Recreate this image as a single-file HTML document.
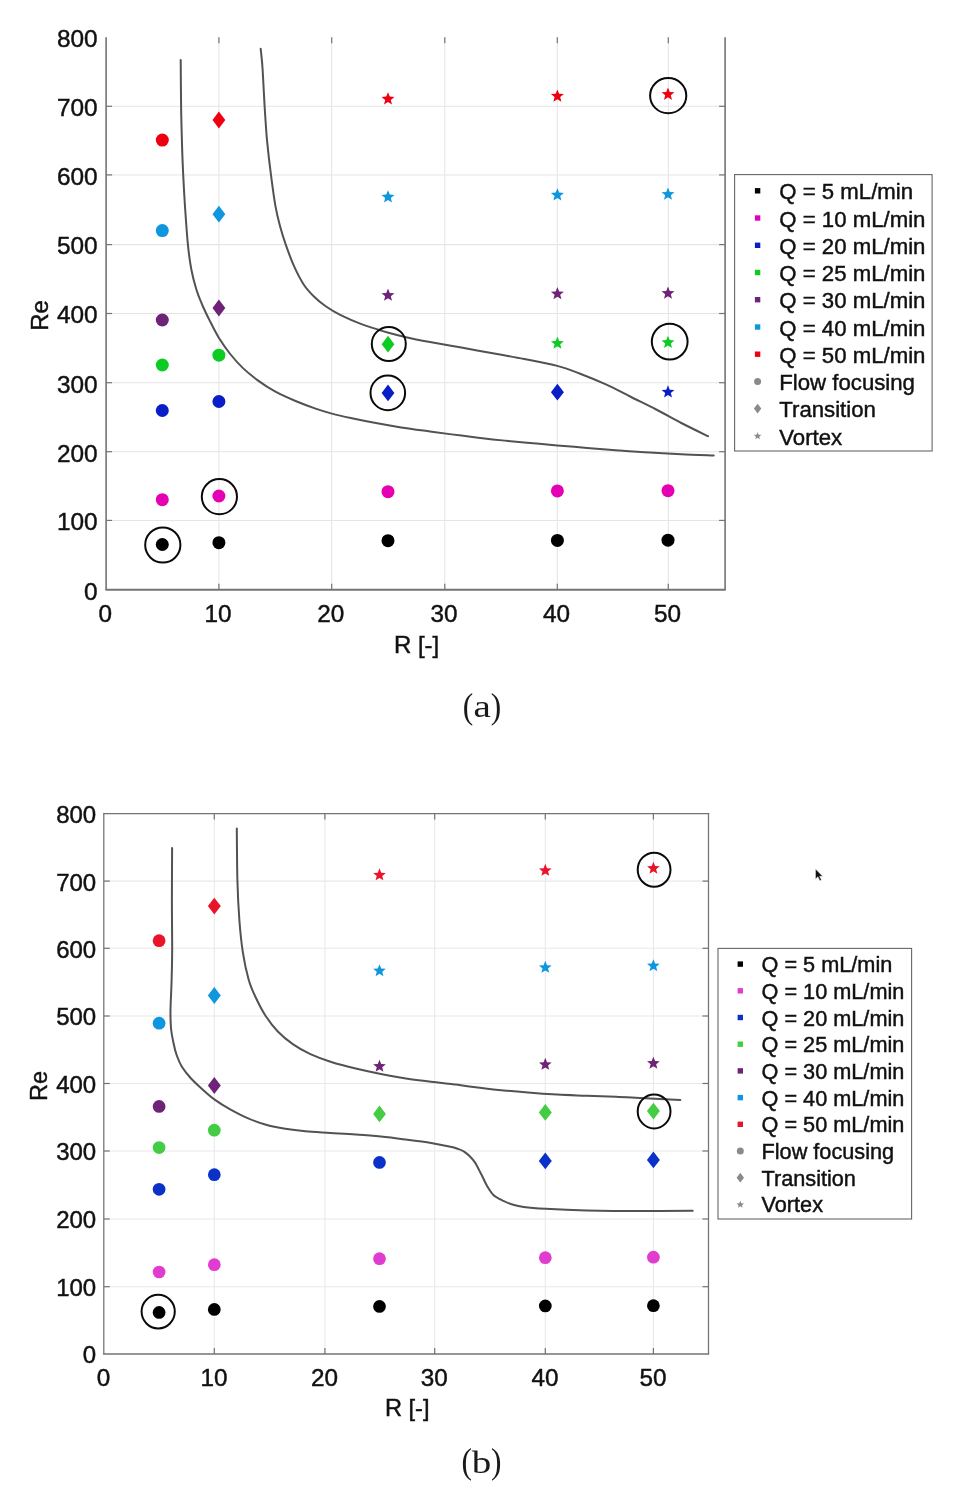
<!DOCTYPE html>
<html lang="en"><head><meta charset="utf-8"><title>Flow regime maps</title>
<style>html,body{margin:0;padding:0;background:#fff}body{width:955px;height:1492px;overflow:hidden}svg{display:block}text{font-family:"Liberation Sans", sans-serif;fill:#111;stroke:#111;stroke-width:0.45px}.cap text{font-family:"Liberation Serif", "DejaVu Serif", serif;stroke:none;fill:#1a1a1a}</style></head><body>
<svg width="955" height="1492" viewBox="0 0 955 1492">
<rect width="955" height="1492" fill="#fff"/>
<g id="plot-a">
<line x1="218.9" y1="37.3" x2="218.9" y2="589.7" stroke="#E5E5E5" stroke-width="1.05"/>
<line x1="331.7" y1="37.3" x2="331.7" y2="589.7" stroke="#E5E5E5" stroke-width="1.05"/>
<line x1="444.8" y1="37.3" x2="444.8" y2="589.7" stroke="#E5E5E5" stroke-width="1.05"/>
<line x1="557.3" y1="37.3" x2="557.3" y2="589.7" stroke="#E5E5E5" stroke-width="1.05"/>
<line x1="668.3" y1="37.3" x2="668.3" y2="589.7" stroke="#E5E5E5" stroke-width="1.05"/>
<line x1="106.1" y1="520.4" x2="725.1" y2="520.4" stroke="#E5E5E5" stroke-width="1.05"/>
<line x1="106.1" y1="451.7" x2="725.1" y2="451.7" stroke="#E5E5E5" stroke-width="1.05"/>
<line x1="106.1" y1="382.7" x2="725.1" y2="382.7" stroke="#E5E5E5" stroke-width="1.05"/>
<line x1="106.1" y1="313.5" x2="725.1" y2="313.5" stroke="#E5E5E5" stroke-width="1.05"/>
<line x1="106.1" y1="244.6" x2="725.1" y2="244.6" stroke="#E5E5E5" stroke-width="1.05"/>
<line x1="106.1" y1="174.9" x2="725.1" y2="174.9" stroke="#E5E5E5" stroke-width="1.05"/>
<line x1="106.1" y1="106.3" x2="725.1" y2="106.3" stroke="#E5E5E5" stroke-width="1.05"/>
<line x1="106.1" y1="37.3" x2="106.1" y2="589.7" stroke="#747474" stroke-width="1.60"/>
<line x1="725.1" y1="37.3" x2="725.1" y2="589.7" stroke="#747474" stroke-width="1.60"/>
<line x1="105.4" y1="589.7" x2="725.8" y2="589.7" stroke="#747474" stroke-width="1.90"/>
<line x1="218.9" y1="589.7" x2="218.9" y2="583.7" stroke="#747474" stroke-width="1.2"/>
<line x1="218.9" y1="37.3" x2="218.9" y2="43.3" stroke="#747474" stroke-width="1.2"/>
<line x1="331.7" y1="589.7" x2="331.7" y2="583.7" stroke="#747474" stroke-width="1.2"/>
<line x1="331.7" y1="37.3" x2="331.7" y2="43.3" stroke="#747474" stroke-width="1.2"/>
<line x1="444.8" y1="589.7" x2="444.8" y2="583.7" stroke="#747474" stroke-width="1.2"/>
<line x1="444.8" y1="37.3" x2="444.8" y2="43.3" stroke="#747474" stroke-width="1.2"/>
<line x1="557.3" y1="589.7" x2="557.3" y2="583.7" stroke="#747474" stroke-width="1.2"/>
<line x1="557.3" y1="37.3" x2="557.3" y2="43.3" stroke="#747474" stroke-width="1.2"/>
<line x1="668.3" y1="589.7" x2="668.3" y2="583.7" stroke="#747474" stroke-width="1.2"/>
<line x1="668.3" y1="37.3" x2="668.3" y2="43.3" stroke="#747474" stroke-width="1.2"/>
<line x1="106.1" y1="520.4" x2="112.1" y2="520.4" stroke="#747474" stroke-width="1.2"/>
<line x1="725.1" y1="520.4" x2="719.1" y2="520.4" stroke="#747474" stroke-width="1.2"/>
<line x1="106.1" y1="451.7" x2="112.1" y2="451.7" stroke="#747474" stroke-width="1.2"/>
<line x1="725.1" y1="451.7" x2="719.1" y2="451.7" stroke="#747474" stroke-width="1.2"/>
<line x1="106.1" y1="382.7" x2="112.1" y2="382.7" stroke="#747474" stroke-width="1.2"/>
<line x1="725.1" y1="382.7" x2="719.1" y2="382.7" stroke="#747474" stroke-width="1.2"/>
<line x1="106.1" y1="313.5" x2="112.1" y2="313.5" stroke="#747474" stroke-width="1.2"/>
<line x1="725.1" y1="313.5" x2="719.1" y2="313.5" stroke="#747474" stroke-width="1.2"/>
<line x1="106.1" y1="244.6" x2="112.1" y2="244.6" stroke="#747474" stroke-width="1.2"/>
<line x1="725.1" y1="244.6" x2="719.1" y2="244.6" stroke="#747474" stroke-width="1.2"/>
<line x1="106.1" y1="174.9" x2="112.1" y2="174.9" stroke="#747474" stroke-width="1.2"/>
<line x1="725.1" y1="174.9" x2="719.1" y2="174.9" stroke="#747474" stroke-width="1.2"/>
<line x1="106.1" y1="106.3" x2="112.1" y2="106.3" stroke="#747474" stroke-width="1.2"/>
<line x1="725.1" y1="106.3" x2="719.1" y2="106.3" stroke="#747474" stroke-width="1.2"/>
<text x="105.2" y="621.5" font-size="24.3" text-anchor="middle">0</text>
<text x="218.0" y="621.5" font-size="24.3" text-anchor="middle">10</text>
<text x="330.8" y="621.5" font-size="24.3" text-anchor="middle">20</text>
<text x="443.9" y="621.5" font-size="24.3" text-anchor="middle">30</text>
<text x="556.4" y="621.5" font-size="24.3" text-anchor="middle">40</text>
<text x="667.4" y="621.5" font-size="24.3" text-anchor="middle">50</text>
<text x="97.6" y="599.5" font-size="24.4" text-anchor="end">0</text>
<text x="97.6" y="530.2" font-size="24.4" text-anchor="end">100</text>
<text x="97.6" y="461.5" font-size="24.4" text-anchor="end">200</text>
<text x="97.6" y="392.5" font-size="24.4" text-anchor="end">300</text>
<text x="97.6" y="323.3" font-size="24.4" text-anchor="end">400</text>
<text x="97.6" y="254.4" font-size="24.4" text-anchor="end">500</text>
<text x="97.6" y="184.7" font-size="24.4" text-anchor="end">600</text>
<text x="97.6" y="116.1" font-size="24.4" text-anchor="end">700</text>
<text x="97.6" y="47.1" font-size="24.4" text-anchor="end">800</text>
<text x="416.6" y="653.3" font-size="24.0" text-anchor="middle">R [-]</text>
<text transform="translate(47.9,315.4) rotate(-90)" font-size="24.0" text-anchor="middle">Re</text>
<path d="M180.7,60.1 C180.8,67.8 180.9,91.9 181.1,106.4 C181.3,120.9 181.8,136.0 182.1,147.3 C182.4,158.7 182.7,164.1 183.2,174.5 C183.7,184.9 184.4,197.8 185.2,209.5 C186.0,221.2 186.9,234.5 187.9,244.6 C188.9,254.7 190.0,262.4 191.4,269.8 C192.8,277.2 194.5,283.4 196.3,289.3 C198.1,295.2 200.0,299.6 202.3,305.0 C204.6,310.4 207.3,315.9 210.1,321.4 C212.8,326.8 215.5,332.3 218.8,337.7 C222.2,343.1 226.2,349.0 230.2,354.0 C234.2,359.0 238.1,363.5 242.7,367.9 C247.3,372.3 252.4,376.4 257.8,380.4 C263.2,384.4 269.1,388.3 275.4,391.7 C281.7,395.1 288.8,398.2 295.5,401.0 C302.2,403.8 309.5,406.5 315.6,408.6 C321.7,410.7 326.0,412.0 331.9,413.6 C337.8,415.2 343.5,416.5 350.8,418.1 C358.1,419.7 367.5,421.6 375.9,423.1 C384.3,424.7 392.1,426.0 401.1,427.4 C410.1,428.8 419.9,430.1 430.0,431.5 C440.1,432.9 450.9,434.3 461.4,435.6 C471.9,436.9 482.3,438.2 492.8,439.4 C503.3,440.5 513.5,441.5 524.2,442.5 C534.9,443.5 546.7,444.5 557.2,445.4 C567.7,446.3 576.9,447.1 587.1,447.9 C597.3,448.7 608.0,449.6 618.5,450.4 C629.0,451.2 639.4,452.0 649.9,452.6 C660.4,453.2 670.7,453.7 681.3,454.2 C691.9,454.7 708.3,455.2 713.7,455.4" fill="none" stroke="#525252" stroke-width="2" stroke-linecap="round" stroke-linejoin="round"/>
<path d="M260.7,48.8 C261.0,52.2 262.0,59.7 262.6,69.2 C263.2,78.8 263.9,94.1 264.6,106.1 C265.4,118.1 266.0,129.7 267.1,141.2 C268.2,152.7 269.6,164.5 271.0,175.2 C272.4,185.9 273.8,196.8 275.3,205.4 C276.8,214.0 278.4,220.2 280.2,226.8 C282.0,233.5 283.7,238.8 286.0,245.3 C288.3,251.8 290.9,259.2 293.8,265.7 C296.7,272.2 300.1,279.0 303.5,284.2 C306.9,289.4 310.5,293.1 314.2,296.8 C317.9,300.5 321.3,303.2 325.7,306.3 C330.1,309.4 334.8,312.2 340.7,315.1 C346.6,318.0 354.9,321.6 360.8,323.9 C366.7,326.2 371.3,327.4 375.9,328.9 C380.5,330.4 383.5,331.3 388.5,332.7 C393.5,334.1 399.2,335.6 406.1,337.2 C413.0,338.8 420.8,340.3 430.0,342.0 C439.2,343.7 450.9,345.7 461.4,347.6 C471.9,349.5 482.3,351.4 492.8,353.3 C503.3,355.2 513.5,356.9 524.2,359.0 C534.9,361.1 547.8,363.4 557.2,365.9 C566.6,368.4 572.7,370.9 580.8,374.0 C588.9,377.1 597.5,380.6 605.9,384.4 C614.3,388.2 622.7,392.8 631.1,397.0 C639.5,401.2 647.8,405.2 656.2,409.5 C664.6,413.8 672.7,418.6 681.3,423.0 C689.9,427.4 703.5,434.0 708.0,436.2" fill="none" stroke="#525252" stroke-width="2" stroke-linecap="round" stroke-linejoin="round"/>
<circle cx="162.3" cy="140.1" r="6.50" fill="#EE0010"/>
<circle cx="162.3" cy="230.6" r="6.50" fill="#0E96DE"/>
<circle cx="162.3" cy="320.0" r="6.50" fill="#6E2278"/>
<circle cx="162.3" cy="365.0" r="6.50" fill="#0CCB22"/>
<circle cx="162.3" cy="410.5" r="6.50" fill="#0A1EC8"/>
<circle cx="162.3" cy="499.7" r="6.50" fill="#E600B4"/>
<circle cx="162.3" cy="544.5" r="6.50" fill="#000000"/>
<polygon points="218.9,111.6 225.3,120.0 218.9,128.4 212.5,120.0" fill="#EE0010"/>
<polygon points="218.9,205.8 225.3,214.2 218.9,222.6 212.5,214.2" fill="#0E96DE"/>
<polygon points="218.9,299.6 225.3,308.0 218.9,316.4 212.5,308.0" fill="#6E2278"/>
<circle cx="218.9" cy="355.2" r="6.50" fill="#0CCB22"/>
<circle cx="218.9" cy="401.5" r="6.50" fill="#0A1EC8"/>
<circle cx="218.9" cy="496.0" r="6.50" fill="#E600B4"/>
<circle cx="218.9" cy="542.7" r="6.50" fill="#000000"/>
<polygon points="388.00,92.20 389.74,96.60 394.46,96.89 390.81,99.91 391.99,104.49 388.00,101.95 384.01,104.49 385.19,99.91 381.54,96.89 386.26,96.60" fill="#EE0010"/>
<polygon points="388.00,190.20 389.74,194.60 394.46,194.89 390.81,197.91 391.99,202.49 388.00,199.95 384.01,202.49 385.19,197.91 381.54,194.89 386.26,194.60" fill="#0E96DE"/>
<polygon points="388.00,288.50 389.74,292.90 394.46,293.19 390.81,296.21 391.99,300.79 388.00,298.25 384.01,300.79 385.19,296.21 381.54,293.19 386.26,292.90" fill="#6E2278"/>
<polygon points="388.0,335.8 394.4,344.2 388.0,352.6 381.6,344.2" fill="#0CCB22"/>
<polygon points="388.0,384.5 394.4,392.9 388.0,401.3 381.6,392.9" fill="#0A1EC8"/>
<circle cx="388.0" cy="491.7" r="6.50" fill="#E600B4"/>
<circle cx="388.0" cy="540.7" r="6.50" fill="#000000"/>
<polygon points="557.40,89.40 559.14,93.80 563.86,94.09 560.21,97.11 561.39,101.69 557.40,99.15 553.41,101.69 554.59,97.11 550.94,94.09 555.66,93.80" fill="#EE0010"/>
<polygon points="557.40,188.20 559.14,192.60 563.86,192.89 560.21,195.91 561.39,200.49 557.40,197.95 553.41,200.49 554.59,195.91 550.94,192.89 555.66,192.60" fill="#0E96DE"/>
<polygon points="557.40,287.00 559.14,291.40 563.86,291.69 560.21,294.71 561.39,299.29 557.40,296.75 553.41,299.29 554.59,294.71 550.94,291.69 555.66,291.40" fill="#6E2278"/>
<polygon points="557.40,336.50 559.14,340.90 563.86,341.19 560.21,344.21 561.39,348.79 557.40,346.25 553.41,348.79 554.59,344.21 550.94,341.19 555.66,340.90" fill="#0CCB22"/>
<polygon points="557.4,383.8 563.9,392.2 557.4,400.6 550.9,392.2" fill="#0A1EC8"/>
<circle cx="557.4" cy="490.9" r="6.50" fill="#E600B4"/>
<circle cx="557.4" cy="540.4" r="6.50" fill="#000000"/>
<polygon points="668.00,87.60 669.74,92.00 674.46,92.29 670.81,95.31 671.99,99.89 668.00,97.35 664.01,99.89 665.19,95.31 661.54,92.29 666.26,92.00" fill="#EE0010"/>
<polygon points="668.00,187.50 669.74,191.90 674.46,192.19 670.81,195.21 671.99,199.79 668.00,197.25 664.01,199.79 665.19,195.21 661.54,192.19 666.26,191.90" fill="#0E96DE"/>
<polygon points="668.00,286.50 669.74,290.90 674.46,291.19 670.81,294.21 671.99,298.79 668.00,296.25 664.01,298.79 665.19,294.21 661.54,291.19 666.26,290.90" fill="#6E2278"/>
<polygon points="668.00,335.70 669.74,340.10 674.46,340.39 670.81,343.41 671.99,347.99 668.00,345.45 664.01,347.99 665.19,343.41 661.54,340.39 666.26,340.10" fill="#0CCB22"/>
<polygon points="668.00,385.30 669.74,389.70 674.46,389.99 670.81,393.01 671.99,397.59 668.00,395.05 664.01,397.59 665.19,393.01 661.54,389.99 666.26,389.70" fill="#0A1EC8"/>
<circle cx="668.0" cy="490.7" r="6.50" fill="#E600B4"/>
<circle cx="668.0" cy="540.2" r="6.50" fill="#000000"/>
<ellipse cx="219.4" cy="496.7" rx="17.6" ry="17.6" fill="none" stroke="#0a0a0a" stroke-width="2"/>
<ellipse cx="162.8" cy="545.0" rx="17.6" ry="17.6" fill="none" stroke="#0a0a0a" stroke-width="2"/>
<ellipse cx="388.8" cy="343.9" rx="17.0" ry="17.0" fill="none" stroke="#0a0a0a" stroke-width="2"/>
<ellipse cx="387.8" cy="392.9" rx="17.3" ry="17.3" fill="none" stroke="#0a0a0a" stroke-width="2"/>
<ellipse cx="668.2" cy="95.7" rx="18.1" ry="17.6" fill="none" stroke="#0a0a0a" stroke-width="2"/>
<ellipse cx="669.7" cy="341.6" rx="17.9" ry="17.9" fill="none" stroke="#0a0a0a" stroke-width="2"/>
<rect x="734.6" y="174.6" width="197.5" height="276.4" fill="#fff" stroke="#666" stroke-width="1.1"/>
<rect x="754.9" y="188.1" width="5.4" height="5.4" fill="#000000"/>
<text x="779.3" y="199.4" font-size="22.2">Q = 5 mL/min</text>
<rect x="754.9" y="215.3" width="5.4" height="5.4" fill="#E600B4"/>
<text x="779.3" y="226.6" font-size="22.2">Q = 10 mL/min</text>
<rect x="754.9" y="242.6" width="5.4" height="5.4" fill="#0A1EC8"/>
<text x="779.3" y="253.9" font-size="22.2">Q = 20 mL/min</text>
<rect x="754.9" y="269.8" width="5.4" height="5.4" fill="#0CCB22"/>
<text x="779.3" y="281.1" font-size="22.2">Q = 25 mL/min</text>
<rect x="754.9" y="297.0" width="5.4" height="5.4" fill="#6E2278"/>
<text x="779.3" y="308.3" font-size="22.2">Q = 30 mL/min</text>
<rect x="754.9" y="324.3" width="5.4" height="5.4" fill="#0E96DE"/>
<text x="779.3" y="335.6" font-size="22.2">Q = 40 mL/min</text>
<rect x="754.9" y="351.5" width="5.4" height="5.4" fill="#EE0010"/>
<text x="779.3" y="362.8" font-size="22.2">Q = 50 mL/min</text>
<circle cx="757.6" cy="381.4" r="3.50" fill="#8a8a8a"/>
<text x="779.3" y="390.0" font-size="22.2">Flow focusing</text>
<polygon points="757.6,403.8 761.3,408.6 757.6,413.5 753.9,408.6" fill="#8a8a8a"/>
<text x="779.3" y="417.2" font-size="22.2">Transition</text>
<polygon points="757.60,432.10 758.62,434.69 761.41,434.87 759.25,436.64 759.95,439.34 757.60,437.84 755.25,439.34 755.95,436.64 753.79,434.87 756.58,434.69" fill="#8a8a8a"/>
<text x="779.3" y="444.5" font-size="22.2">Vortex</text>
<g class="cap">
<text transform="translate(467.9,717.7) scale(0.86,1)" font-size="36.6" text-anchor="middle">(</text>
<text transform="translate(482.2,716.9) scale(1.22,1)" font-size="32" text-anchor="middle">a</text>
<text transform="translate(495.9,717.7) scale(0.86,1)" font-size="36.6" text-anchor="middle">)</text>
</g>
</g>
<g id="plot-b">
<line x1="214.3" y1="813.6" x2="214.3" y2="1353.9" stroke="#E8E8E8" stroke-width="1.05"/>
<line x1="324.9" y1="813.6" x2="324.9" y2="1353.9" stroke="#E8E8E8" stroke-width="1.05"/>
<line x1="434.7" y1="813.6" x2="434.7" y2="1353.9" stroke="#E8E8E8" stroke-width="1.05"/>
<line x1="545.3" y1="813.6" x2="545.3" y2="1353.9" stroke="#E8E8E8" stroke-width="1.05"/>
<line x1="653.4" y1="813.6" x2="653.4" y2="1353.9" stroke="#E8E8E8" stroke-width="1.05"/>
<line x1="103.8" y1="1286.7" x2="708.5" y2="1286.7" stroke="#E8E8E8" stroke-width="1.05"/>
<line x1="103.8" y1="1219.0" x2="708.5" y2="1219.0" stroke="#E8E8E8" stroke-width="1.05"/>
<line x1="103.8" y1="1151.0" x2="708.5" y2="1151.0" stroke="#E8E8E8" stroke-width="1.05"/>
<line x1="103.8" y1="1083.5" x2="708.5" y2="1083.5" stroke="#E8E8E8" stroke-width="1.05"/>
<line x1="103.8" y1="1016.0" x2="708.5" y2="1016.0" stroke="#E8E8E8" stroke-width="1.05"/>
<line x1="103.8" y1="948.3" x2="708.5" y2="948.3" stroke="#E8E8E8" stroke-width="1.05"/>
<line x1="103.8" y1="881.1" x2="708.5" y2="881.1" stroke="#E8E8E8" stroke-width="1.05"/>
<line x1="103.8" y1="813.6" x2="103.8" y2="1353.9" stroke="#737373" stroke-width="1.25"/>
<line x1="708.5" y1="813.6" x2="708.5" y2="1353.9" stroke="#737373" stroke-width="1.25"/>
<line x1="103.1" y1="1353.9" x2="709.2" y2="1353.9" stroke="#737373" stroke-width="1.55"/>
<line x1="103.1" y1="813.6" x2="709.2" y2="813.6" stroke="#737373" stroke-width="1.25"/>
<line x1="214.3" y1="1353.9" x2="214.3" y2="1347.9" stroke="#737373" stroke-width="1.2"/>
<line x1="214.3" y1="813.6" x2="214.3" y2="819.6" stroke="#737373" stroke-width="1.2"/>
<line x1="324.9" y1="1353.9" x2="324.9" y2="1347.9" stroke="#737373" stroke-width="1.2"/>
<line x1="324.9" y1="813.6" x2="324.9" y2="819.6" stroke="#737373" stroke-width="1.2"/>
<line x1="434.7" y1="1353.9" x2="434.7" y2="1347.9" stroke="#737373" stroke-width="1.2"/>
<line x1="434.7" y1="813.6" x2="434.7" y2="819.6" stroke="#737373" stroke-width="1.2"/>
<line x1="545.3" y1="1353.9" x2="545.3" y2="1347.9" stroke="#737373" stroke-width="1.2"/>
<line x1="545.3" y1="813.6" x2="545.3" y2="819.6" stroke="#737373" stroke-width="1.2"/>
<line x1="653.4" y1="1353.9" x2="653.4" y2="1347.9" stroke="#737373" stroke-width="1.2"/>
<line x1="653.4" y1="813.6" x2="653.4" y2="819.6" stroke="#737373" stroke-width="1.2"/>
<line x1="103.8" y1="1286.7" x2="109.8" y2="1286.7" stroke="#737373" stroke-width="1.2"/>
<line x1="708.5" y1="1286.7" x2="702.5" y2="1286.7" stroke="#737373" stroke-width="1.2"/>
<line x1="103.8" y1="1219.0" x2="109.8" y2="1219.0" stroke="#737373" stroke-width="1.2"/>
<line x1="708.5" y1="1219.0" x2="702.5" y2="1219.0" stroke="#737373" stroke-width="1.2"/>
<line x1="103.8" y1="1151.0" x2="109.8" y2="1151.0" stroke="#737373" stroke-width="1.2"/>
<line x1="708.5" y1="1151.0" x2="702.5" y2="1151.0" stroke="#737373" stroke-width="1.2"/>
<line x1="103.8" y1="1083.5" x2="109.8" y2="1083.5" stroke="#737373" stroke-width="1.2"/>
<line x1="708.5" y1="1083.5" x2="702.5" y2="1083.5" stroke="#737373" stroke-width="1.2"/>
<line x1="103.8" y1="1016.0" x2="109.8" y2="1016.0" stroke="#737373" stroke-width="1.2"/>
<line x1="708.5" y1="1016.0" x2="702.5" y2="1016.0" stroke="#737373" stroke-width="1.2"/>
<line x1="103.8" y1="948.3" x2="109.8" y2="948.3" stroke="#737373" stroke-width="1.2"/>
<line x1="708.5" y1="948.3" x2="702.5" y2="948.3" stroke="#737373" stroke-width="1.2"/>
<line x1="103.8" y1="881.1" x2="109.8" y2="881.1" stroke="#737373" stroke-width="1.2"/>
<line x1="708.5" y1="881.1" x2="702.5" y2="881.1" stroke="#737373" stroke-width="1.2"/>
<text x="103.4" y="1385.8" font-size="24.3" text-anchor="middle">0</text>
<text x="213.9" y="1385.8" font-size="24.3" text-anchor="middle">10</text>
<text x="324.5" y="1385.8" font-size="24.3" text-anchor="middle">20</text>
<text x="434.3" y="1385.8" font-size="24.3" text-anchor="middle">30</text>
<text x="544.9" y="1385.8" font-size="24.3" text-anchor="middle">40</text>
<text x="653.0" y="1385.8" font-size="24.3" text-anchor="middle">50</text>
<text x="96.2" y="1363.3" font-size="24.0" text-anchor="end">0</text>
<text x="96.2" y="1296.1" font-size="24.0" text-anchor="end">100</text>
<text x="96.2" y="1228.4" font-size="24.0" text-anchor="end">200</text>
<text x="96.2" y="1160.4" font-size="24.0" text-anchor="end">300</text>
<text x="96.2" y="1092.9" font-size="24.0" text-anchor="end">400</text>
<text x="96.2" y="1025.4" font-size="24.0" text-anchor="end">500</text>
<text x="96.2" y="957.7" font-size="24.0" text-anchor="end">600</text>
<text x="96.2" y="890.5" font-size="24.0" text-anchor="end">700</text>
<text x="96.2" y="823.0" font-size="24.0" text-anchor="end">800</text>
<text x="407.2" y="1416.2" font-size="23.6" text-anchor="middle">R [-]</text>
<text transform="translate(47.0,1085.9) rotate(-90)" font-size="23.6" text-anchor="middle">Re</text>
<path d="M172.1,848.1 C172.1,856.8 171.9,883.6 171.9,900.4 C171.9,917.1 172.2,935.2 172.2,948.6 C172.1,962.0 171.9,971.3 171.6,980.8 C171.3,990.3 170.8,999.7 170.6,1005.7 C170.4,1011.7 170.4,1013.0 170.5,1017.0 C170.6,1021.0 170.7,1025.6 171.2,1030.0 C171.7,1034.4 172.7,1039.2 173.6,1043.5 C174.5,1047.8 175.4,1051.6 176.8,1055.5 C178.2,1059.4 179.6,1063.0 181.9,1066.8 C184.2,1070.5 187.2,1074.2 190.6,1078.0 C194.0,1081.8 198.4,1085.7 202.3,1089.3 C206.2,1092.9 209.7,1096.1 214.3,1099.4 C219.0,1102.8 224.6,1106.3 230.2,1109.4 C235.8,1112.5 241.8,1115.7 247.6,1118.2 C253.4,1120.7 258.9,1122.7 265.2,1124.5 C271.5,1126.3 278.6,1127.7 285.3,1128.8 C292.0,1129.9 297.9,1130.6 305.4,1131.3 C312.9,1132.0 322.1,1132.5 330.5,1133.1 C338.9,1133.6 347.3,1134.0 355.7,1134.6 C364.1,1135.2 372.4,1135.8 380.8,1136.6 C389.2,1137.4 397.5,1138.5 405.9,1139.6 C414.3,1140.6 423.7,1141.7 431.1,1142.9 C438.5,1144.1 446.0,1145.7 450.5,1146.7 C455.0,1147.7 455.7,1148.1 458.0,1148.9 C460.3,1149.7 462.2,1150.4 464.1,1151.6 C466.0,1152.8 467.8,1154.3 469.5,1156.0 C471.2,1157.7 473.1,1159.8 474.6,1161.9 C476.1,1164.0 477.1,1166.2 478.3,1168.5 C479.5,1170.8 480.4,1172.6 481.9,1175.5 C483.4,1178.4 485.2,1182.8 487.1,1186.0 C489.0,1189.2 490.8,1192.5 493.4,1194.9 C496.0,1197.3 499.5,1198.9 502.8,1200.6 C506.1,1202.2 509.8,1203.8 513.3,1204.8 C516.8,1205.8 518.4,1206.2 523.8,1206.9 C529.2,1207.6 535.0,1208.1 545.5,1208.7 C556.0,1209.3 570.0,1210.0 586.6,1210.4 C603.2,1210.8 627.5,1211.0 645.2,1211.0 C662.9,1211.0 684.8,1210.8 692.7,1210.7" fill="none" stroke="#525252" stroke-width="2" stroke-linecap="round" stroke-linejoin="round"/>
<path d="M236.8,828.6 C236.9,837.2 237.0,865.0 237.4,880.3 C237.8,895.6 238.5,908.4 239.4,920.5 C240.3,932.6 241.4,942.9 242.9,952.7 C244.4,962.5 246.5,972.0 248.6,979.4 C250.7,986.8 252.7,991.0 255.5,997.0 C258.3,1003.0 261.5,1009.5 265.2,1015.2 C268.9,1021.0 273.2,1026.7 277.8,1031.5 C282.4,1036.3 287.4,1040.3 292.8,1044.1 C298.2,1047.9 304.1,1051.2 310.4,1054.1 C316.7,1057.0 322.9,1059.3 330.5,1061.7 C338.1,1064.1 347.3,1066.5 355.7,1068.5 C364.1,1070.5 372.4,1072.3 380.8,1074.0 C389.2,1075.7 397.5,1077.2 405.9,1078.5 C414.3,1079.8 422.7,1080.8 431.1,1081.8 C439.5,1082.8 449.8,1083.8 456.2,1084.6 C462.6,1085.4 462.2,1085.5 469.3,1086.4 C476.4,1087.3 488.8,1088.9 498.6,1089.9 C508.4,1090.9 518.2,1091.7 528.0,1092.5 C537.8,1093.3 547.5,1094.0 557.3,1094.6 C567.1,1095.1 576.8,1095.4 586.6,1095.8 C596.4,1096.2 606.1,1096.4 615.9,1096.8 C625.7,1097.2 634.5,1097.8 645.2,1098.3 C655.9,1098.8 674.4,1099.6 680.3,1099.9" fill="none" stroke="#525252" stroke-width="2" stroke-linecap="round" stroke-linejoin="round"/>
<circle cx="159.1" cy="940.7" r="6.37" fill="#E8142A"/>
<circle cx="159.1" cy="1023.2" r="6.37" fill="#0E96DE"/>
<circle cx="159.1" cy="1106.4" r="6.37" fill="#6E2278"/>
<circle cx="159.1" cy="1147.6" r="6.37" fill="#44CC44"/>
<circle cx="159.1" cy="1189.3" r="6.37" fill="#0A32C8"/>
<circle cx="159.1" cy="1272.0" r="6.37" fill="#E03CD0"/>
<circle cx="159.1" cy="1312.4" r="6.37" fill="#000000"/>
<polygon points="214.3,897.7 220.8,906.1 214.3,914.5 207.9,906.1" fill="#E8142A"/>
<polygon points="214.3,987.1 220.8,995.5 214.3,1003.9 207.9,995.5" fill="#0E96DE"/>
<polygon points="214.3,1077.1 220.8,1085.5 214.3,1093.9 207.9,1085.5" fill="#6E2278"/>
<circle cx="214.3" cy="1130.2" r="6.37" fill="#44CC44"/>
<circle cx="214.3" cy="1174.7" r="6.37" fill="#0A32C8"/>
<circle cx="214.3" cy="1264.7" r="6.37" fill="#E03CD0"/>
<circle cx="214.3" cy="1309.4" r="6.37" fill="#000000"/>
<polygon points="379.50,868.33 381.20,872.64 385.83,872.93 382.25,875.88 383.41,880.37 379.50,877.88 375.59,880.37 376.75,875.88 373.17,872.93 377.80,872.64" fill="#E8142A"/>
<polygon points="379.50,964.13 381.20,968.44 385.83,968.73 382.25,971.68 383.41,976.17 379.50,973.68 375.59,976.17 376.75,971.68 373.17,968.73 377.80,968.44" fill="#0E96DE"/>
<polygon points="379.50,1059.63 381.20,1063.94 385.83,1064.23 382.25,1067.18 383.41,1071.67 379.50,1069.18 375.59,1071.67 376.75,1067.18 373.17,1064.23 377.80,1063.94" fill="#6E2278"/>
<polygon points="379.5,1105.5 385.9,1113.9 379.5,1122.3 373.1,1113.9" fill="#44CC44"/>
<circle cx="379.5" cy="1162.4" r="6.37" fill="#0A32C8"/>
<circle cx="379.5" cy="1258.7" r="6.37" fill="#E03CD0"/>
<circle cx="379.5" cy="1306.4" r="6.37" fill="#000000"/>
<polygon points="545.30,863.83 547.00,868.14 551.63,868.43 548.05,871.38 549.21,875.87 545.30,873.38 541.39,875.87 542.55,871.38 538.97,868.43 543.60,868.14" fill="#E8142A"/>
<polygon points="545.30,960.83 547.00,965.14 551.63,965.43 548.05,968.38 549.21,972.87 545.30,970.38 541.39,972.87 542.55,968.38 538.97,965.43 543.60,965.14" fill="#0E96DE"/>
<polygon points="545.30,1057.83 547.00,1062.14 551.63,1062.43 548.05,1065.38 549.21,1069.87 545.30,1067.38 541.39,1069.87 542.55,1065.38 538.97,1062.43 543.60,1062.14" fill="#6E2278"/>
<polygon points="545.3,1104.0 551.8,1112.4 545.3,1120.8 538.8,1112.4" fill="#44CC44"/>
<polygon points="545.3,1152.5 551.8,1160.9 545.3,1169.3 538.8,1160.9" fill="#0A32C8"/>
<circle cx="545.3" cy="1257.7" r="6.37" fill="#E03CD0"/>
<circle cx="545.3" cy="1305.9" r="6.37" fill="#000000"/>
<polygon points="653.40,861.63 655.10,865.94 659.73,866.23 656.15,869.18 657.31,873.67 653.40,871.18 649.49,873.67 650.65,869.18 647.07,866.23 651.70,865.94" fill="#E8142A"/>
<polygon points="653.40,959.13 655.10,963.44 659.73,963.73 656.15,966.68 657.31,971.17 653.40,968.68 649.49,971.17 650.65,966.68 647.07,963.73 651.70,963.44" fill="#0E96DE"/>
<polygon points="653.40,1056.63 655.10,1060.94 659.73,1061.23 656.15,1064.18 657.31,1068.67 653.40,1066.18 649.49,1068.67 650.65,1064.18 647.07,1061.23 651.70,1060.94" fill="#6E2278"/>
<polygon points="653.4,1102.7 659.9,1111.1 653.4,1119.5 646.9,1111.1" fill="#44CC44"/>
<polygon points="653.4,1151.5 659.9,1159.9 653.4,1168.3 646.9,1159.9" fill="#0A32C8"/>
<circle cx="653.4" cy="1257.2" r="6.37" fill="#E03CD0"/>
<circle cx="653.4" cy="1305.7" r="6.37" fill="#000000"/>
<ellipse cx="158.2" cy="1311.6" rx="16.6" ry="16.8" fill="none" stroke="#0a0a0a" stroke-width="2"/>
<ellipse cx="654.1" cy="869.7" rx="16.4" ry="17.0" fill="none" stroke="#0a0a0a" stroke-width="2"/>
<ellipse cx="654.1" cy="1111.4" rx="16.4" ry="17.0" fill="none" stroke="#0a0a0a" stroke-width="2"/>
<rect x="718.0" y="948.4" width="193.6" height="270.6" fill="#fff" stroke="#666" stroke-width="1.1"/>
<rect x="737.6" y="961.4" width="5.4" height="5.4" fill="#000000"/>
<text x="761.5" y="972.1" font-size="21.7">Q = 5 mL/min</text>
<rect x="737.6" y="988.1" width="5.4" height="5.4" fill="#E03CD0"/>
<text x="761.5" y="998.8" font-size="21.7">Q = 10 mL/min</text>
<rect x="737.6" y="1014.8" width="5.4" height="5.4" fill="#0A32C8"/>
<text x="761.5" y="1025.5" font-size="21.7">Q = 20 mL/min</text>
<rect x="737.6" y="1041.5" width="5.4" height="5.4" fill="#44CC44"/>
<text x="761.5" y="1052.2" font-size="21.7">Q = 25 mL/min</text>
<rect x="737.6" y="1068.2" width="5.4" height="5.4" fill="#6E2278"/>
<text x="761.5" y="1078.9" font-size="21.7">Q = 30 mL/min</text>
<rect x="737.6" y="1094.9" width="5.4" height="5.4" fill="#0E96DE"/>
<text x="761.5" y="1105.6" font-size="21.7">Q = 40 mL/min</text>
<rect x="737.6" y="1121.6" width="5.4" height="5.4" fill="#E8142A"/>
<text x="761.5" y="1132.3" font-size="21.7">Q = 50 mL/min</text>
<circle cx="740.3" cy="1151.0" r="3.50" fill="#8a8a8a"/>
<text x="761.5" y="1159.0" font-size="21.7">Flow focusing</text>
<polygon points="740.3,1172.8 744.0,1177.7 740.3,1182.6 736.6,1177.7" fill="#8a8a8a"/>
<text x="761.5" y="1185.7" font-size="21.7">Transition</text>
<polygon points="740.30,1200.63 741.32,1203.22 744.11,1203.40 741.95,1205.17 742.65,1207.87 740.30,1206.37 737.95,1207.87 738.65,1205.17 736.49,1203.40 739.28,1203.22" fill="#8a8a8a"/>
<text x="761.5" y="1212.4" font-size="21.7">Vortex</text>
<g class="cap">
<text transform="translate(466.7,1472.6) scale(0.86,1)" font-size="36.6" text-anchor="middle">(</text>
<text transform="translate(481.4,1472.7) scale(1.22,1)" font-size="32" text-anchor="middle">b</text>
<text transform="translate(496.3,1472.6) scale(0.86,1)" font-size="36.6" text-anchor="middle">)</text>
</g>
</g>
<path d="M815.5,869 l0,10 l2.4,-2.2 l2,4 l1.6,-0.8 l-2,-3.8 l3.2,0 z" fill="#111" stroke="#fff" stroke-width="0.4"/>
</svg></body></html>
